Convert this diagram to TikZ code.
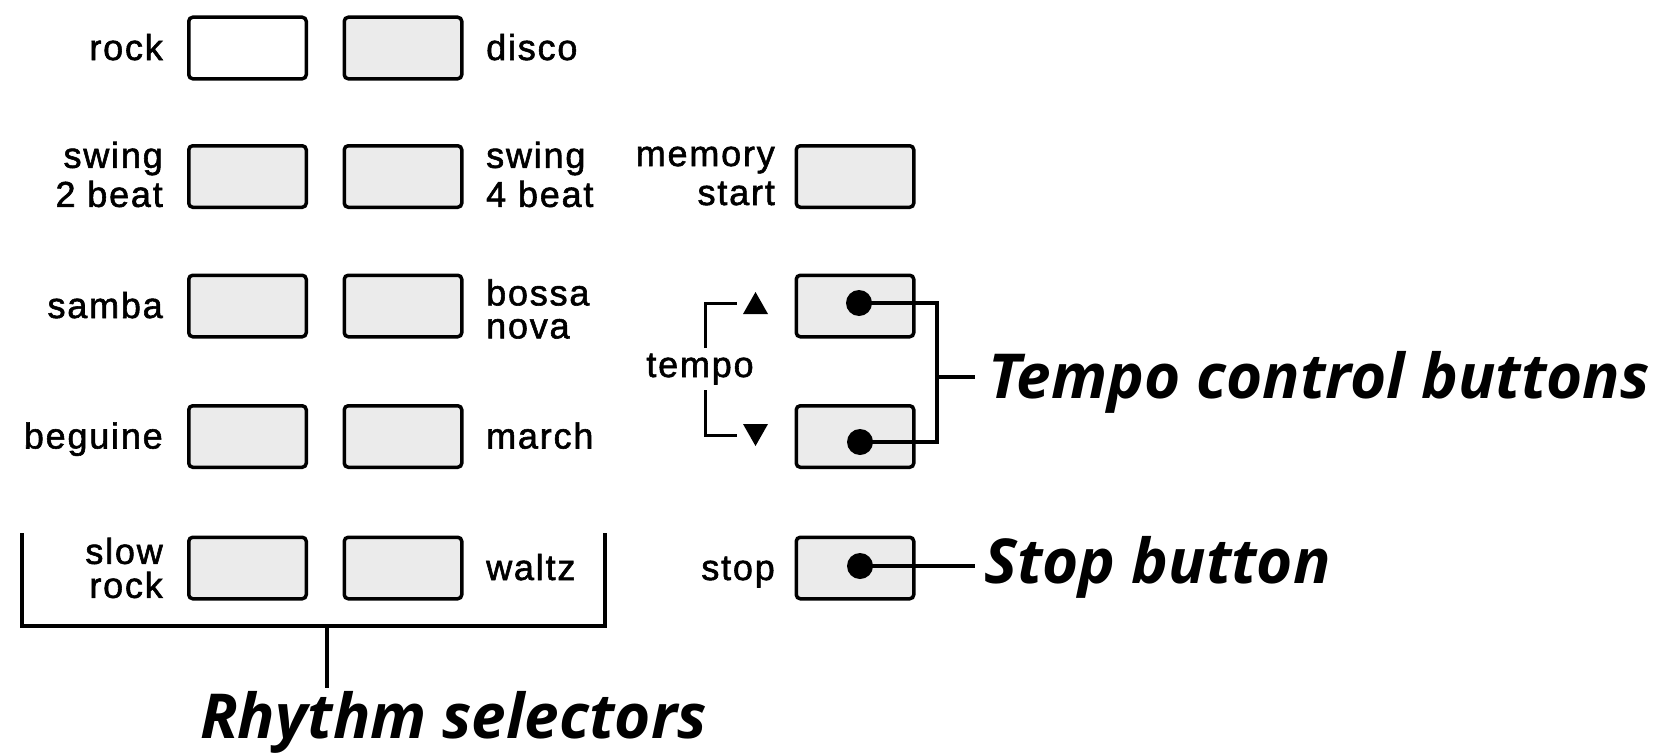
\documentclass[tikz,border=0pt]{standalone}
\usepackage{fontspec}
\setmainfont{Liberation Sans}[LetterSpace=5,FakeBold=1.6]
\newfontfamily\capfont{Open Sans}
\definecolor{btngray}{gray}{0.92}
\begin{document}
\begin{tikzpicture}[x=1pt,y=-1pt,
  btn/.style={draw, line width=3.5pt, rounded corners=4pt, fill=btngray, minimum width=117.5pt, minimum height=61.5pt, inner sep=0pt},
  lbl/.style={font=\fontsize{36}{39}\selectfont, inner sep=0pt},
  captxt/.style={font=\capfont\bfseries\itshape\fontsize{62}{70}\selectfont, inner sep=0pt},
  dot/.style={circle, fill=black, minimum size=26pt, inner sep=0pt},
  wire/.style={line width=3.5pt},
  thinwire/.style={line width=3pt}]
\useasboundingbox (0,0) rectangle (1675,752);
% buttons
\node[btn, fill=white] (rock) at (247.5,48) {};
\node[btn] (disco) at (403,48) {};
\node[btn] (sw2) at (247.5,176.5) {};
\node[btn] (sw4) at (403,176.5) {};
\node[btn] (mem) at (855,176.5) {};
\node[btn] (samba) at (247.5,306) {};
\node[btn] (bossa) at (403,306) {};
\node[btn] (tup) at (855,306) {};
\node[btn] (beg) at (247.5,436.5) {};
\node[btn] (march) at (403,436.5) {};
\node[btn] (tdn) at (855,436.5) {};
\node[btn] (slow) at (247.5,568) {};
\node[btn] (waltz) at (403,568) {};
\node[btn] (stop) at (855,568) {};
% labels
\node[lbl, anchor=base east] (lrock) at (163,60) {rock};
\node[lbl, anchor=base west] (ldisco) at (486,60) {disco};
\node[lbl, anchor=east, align=right] (lsw2) at (163,174.5) {swing\\2 beat};
\node[lbl, anchor=west, align=left] (lsw4) at (486,174.5) {swing\\4 beat};
\node[lbl, anchor=east, align=right] (lmem) at (775,176) {memory\\start};
\node[lbl, anchor=base east] (lsamba) at (163,318) {samba};
\node[lbl, anchor=west, align=left, font=\fontsize{36}{33}\selectfont] (lbossa) at (486,309) {bossa\\nova};
\node[lbl, anchor=base east] (lbeg) at (163,448.5) {beguine};
\node[lbl, anchor=base west] (lmarch) at (486,448.5) {march};
\node[lbl, anchor=east, align=right, font=\fontsize{36}{34}\selectfont] (lslow) at (163,568) {slow\\rock};
\node[lbl, anchor=base west] (lwaltz) at (486,580) {waltz};
\node[lbl, anchor=base east] (lstop) at (775,580) {stop};
\node[lbl, anchor=base] (ltempo) at (700,377) {tempo};
% tempo bracket with arrows
\coordinate (tbu) at (705,348);
\coordinate (tbd) at (705,390);
\coordinate (tau) at (737,303);
\coordinate (tad) at (737,435);
\draw[thinwire] (tbu) |- (tau);
\draw[thinwire] (tbd) |- (tad);
\fill (743,314) -- (768,314) -- (755.5,292) -- cycle;
\fill (743,424) -- (768,424) -- (755.5,446) -- cycle;
% dots
\node[dot] (du) at (859,303) {};
\node[dot] (dd) at (860,442) {};
\node[dot] (ds) at (860,566) {};
% captions
\node[captxt, anchor=base west] (tcap) at (988,398) {Tempo control buttons};
\node[captxt, anchor=base west] (scap) at (984,583) {Stop button};
\node[captxt, anchor=base west] (rcap) at (200,738) {Rhythm selectors};
% tempo connector
\coordinate (jx) at (937,377);
\coordinate (tick) at (975,377);
\draw[wire] (du.center) -| (jx) |- (dd.center);
\draw[wire] (jx) -- (tick);
% stop connector
\coordinate (stick) at (975,566);
\draw[wire] (ds.center) -- (stick);
% rhythm bracket
\coordinate (bl) at (22,533);
\coordinate (br) at (605,533);
\coordinate (bm) at (327,626);
\coordinate (bs) at (327,688);
\draw[wire] (bl) |- (br |- bm) -- (br);
\draw[wire] (bm) -- (bs);
\end{tikzpicture}
\end{document}
